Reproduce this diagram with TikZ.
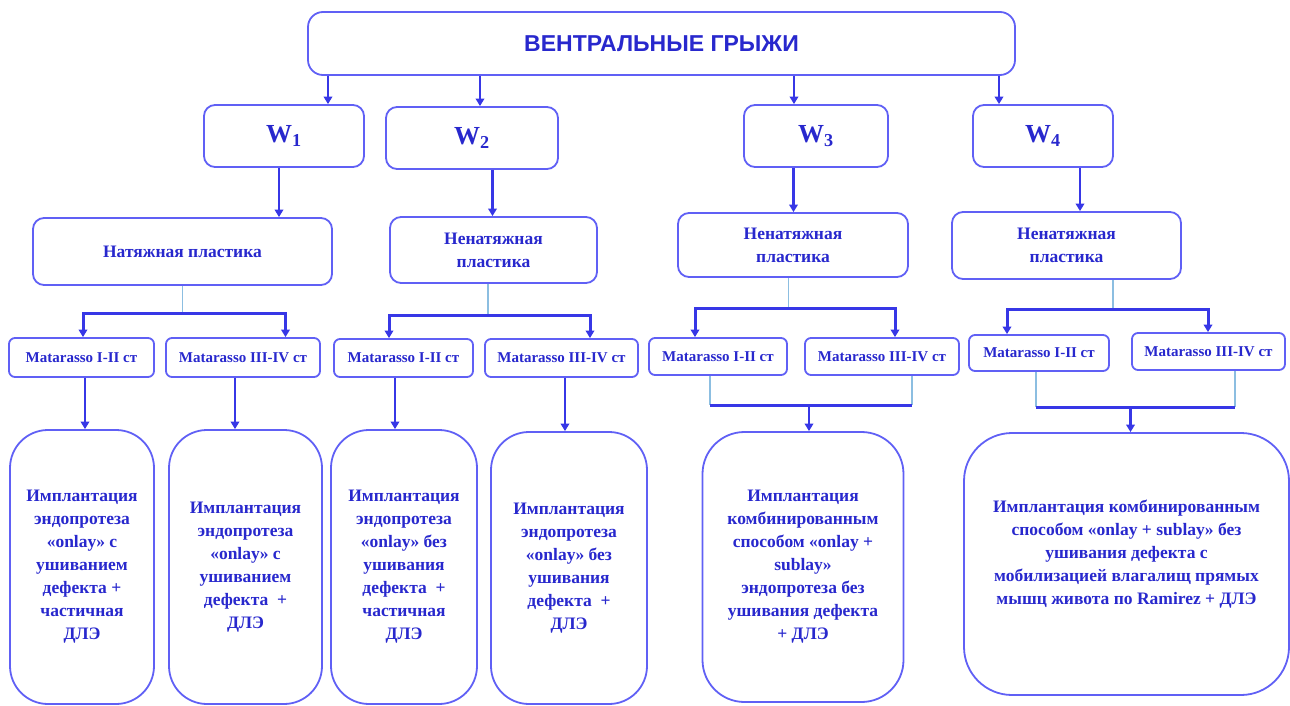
\documentclass[tikz,border=0pt]{standalone}
\usepackage{fontspec}
\setmainfont{Liberation Serif}
\newfontfamily\titlefont{Liberation Sans}
\usetikzlibrary{arrows.meta}
\definecolor{bord}{RGB}{96,96,245}
\definecolor{txt}{RGB}{40,40,205}
\definecolor{arrc}{RGB}{55,55,230}
\definecolor{thinc}{RGB}{140,190,225}
\begin{document}
\begin{tikzpicture}[x=1pt,y=-1pt,
  box/.style={draw=bord, line width=1.8pt, rounded corners=11pt, text=txt, align=center, inner sep=0pt,
    font=\bfseries\fontsize{17.5}{23}\selectfont},
  wbox/.style={box, font=\bfseries\fontsize{26}{30}\selectfont},
  mbox/.style={box, rounded corners=6pt, font=\bfseries\fontsize{15}{18}\selectfont},
  bbox/.style={box, rounded corners=38pt},
  conn/.style={draw=arrc, line width=2.6pt, -{Triangle[width=8.5pt,length=7.5pt]}},
  bar/.style={draw=arrc, line width=3pt},
  bar2/.style={draw=arrc, line width=3pt, {Triangle[width=8.5pt,length=7.5pt]}-{Triangle[width=8.5pt,length=7.5pt]}},
  thinl/.style={draw=thinc, line width=1.2pt}]
\useasboundingbox (0,0) rectangle (1290,706);

% top
\node[box, rounded corners=15pt, minimum width=707pt, minimum height=63pt,
  font=\titlefont\bfseries\fontsize{23}{27}\selectfont] (top) at (661.5,43.5) {ВЕНТРАЛЬНЫЕ ГРЫЖИ};

% W boxes
\node[wbox, minimum width=160pt, minimum height=62pt] (w1) at (284,136) {W\textsubscript{1}};
\node[wbox, minimum width=172pt, minimum height=62pt] (w2) at (472,138) {W\textsubscript{2}};
\node[wbox, minimum width=144pt, minimum height=62pt] (w3) at (816,136) {W\textsubscript{3}};
\node[wbox, minimum width=140pt, minimum height=62pt] (w4) at (1043,136) {W\textsubscript{4}};

% plastic boxes
\node[box, minimum width=299pt, minimum height=67pt] (n1) at (182.5,251.5) {Натяжная пластика};
\node[box, minimum width=207pt, minimum height=66pt] (n2) at (493.5,250) {Ненатяжная\\пластика};
\node[box, minimum width=230pt, minimum height=64pt] (n3) at (793,245) {Ненатяжная\\пластика};
\node[box, minimum width=229pt, minimum height=67pt] (n4) at (1066.5,245.5) {Ненатяжная\\пластика};

% Matarasso boxes
\node[mbox, minimum width=145pt, minimum height=39pt] (m1a) at (81.5,357.5) {Matarasso I-II ст};
\node[mbox, minimum width=154pt, minimum height=39pt] (m1b) at (243,357.5) {Matarasso III-IV ст};
\node[mbox, minimum width=139pt, minimum height=38pt] (m2a) at (403.5,358) {Matarasso I-II ст};
\node[mbox, minimum width=153pt, minimum height=38pt] (m2b) at (561.5,358) {Matarasso III-IV ст};
\node[mbox, minimum width=138pt, minimum height=37pt] (m3a) at (718,356.5) {Matarasso I-II ст};
\node[mbox, minimum width=154pt, minimum height=37pt] (m3b) at (882,356.5) {Matarasso III-IV ст};
\node[mbox, minimum width=140pt, minimum height=36pt] (m4a) at (1039,353) {Matarasso I-II ст};
\node[mbox, minimum width=153pt, minimum height=37pt] (m4b) at (1208.5,351.5) {Matarasso III-IV ст};

% bottom boxes
\node[bbox, minimum width=144pt, minimum height=274pt] (b1) at (82,567)
  {Имплантация\\эндопротеза\\«onlay» с\\ушиванием\\дефекта +\\частичная\\ДЛЭ};
\node[bbox, minimum width=153pt, minimum height=274pt] (b2) at (245.5,567)
  {Имплантация\\эндопротеза\\«onlay» с\\ушиванием\\дефекта \ +\\ДЛЭ};
\node[bbox, minimum width=146pt, minimum height=274pt] (b3) at (404,567)
  {Имплантация\\эндопротеза\\«onlay» без\\ушивания\\дефекта \ +\\частичная\\ДЛЭ};
\node[bbox, minimum width=156pt, minimum height=272pt] (b4) at (569,568)
  {Имплантация\\эндопротеза\\«onlay» без\\ушивания\\дефекта \ +\\ДЛЭ};
\node[bbox, rounded corners=42pt, minimum width=201pt, minimum height=270pt] (b5) at (803,567)
  {Имплантация\\комбинированным\\способом «onlay +\\sublay»\\эндопротеза без\\ушивания дефекта\\+ ДЛЭ};
\node[bbox, rounded corners=48pt, minimum width=325pt, minimum height=262pt] (b6) at (1126.5,564)
  {Имплантация комбинированным\\способом «onlay + sublay» без\\ушивания дефекта с\\мобилизацией влагалищ прямых\\мышц живота по Ramirez + ДЛЭ\\\mbox{}};

% top -> W
\draw[conn] (top.south -| 328,0) -- (w1.north -| 328,0);
\draw[conn] (top.south -| 480,0) -- (w2.north -| 480,0);
\draw[conn] (top.south -| 794,0) -- (w3.north -| 794,0);
\draw[conn] (top.south -| 999,0) -- (w4.north -| 999,0);

% W -> plastic
\draw[conn] (w1.south -| 279,0) -- (n1.north -| 279,0);
\draw[conn] (w2.south -| 492.5,0) -- (n2.north -| 492.5,0);
\draw[conn] (w3.south -| 793.5,0) -- (n3.north -| 793.5,0);
\draw[conn] (w4.south -| 1080,0) -- (n4.north -| 1080,0);

% plastic -> Matarasso
\coordinate (j1) at (182.5,313);
\coordinate (j2) at (488,315);
\coordinate (j3) at (788.5,308);
\coordinate (j4) at (1113,309);
\draw[thinl] (n1.south -| j1) -- (j1);
\draw[thinl] (n2.south -| j2) -- (j2);
\draw[thinl] (n3.south -| j3) -- (j3);
\draw[thinl] (n4.south -| j4) -- (j4);
\draw[bar2] (m1a.north -| 83,0) |- (j1) -| (m1b.north -| 285.5,0);
\draw[bar2] (m2a.north -| 389,0) |- (j2) -| (m2b.north -| 590,0);
\draw[bar2] (m3a.north -| 695,0) |- (j3) -| (m3b.north -| 895,0);
\draw[bar2] (m4a.north -| 1007,0) |- (j4) -| (m4b.north -| 1208,0);

% Matarasso -> implants (W1, W2)
\draw[conn] (m1a.south -| 85,0) -- (b1.north -| 85,0);
\draw[conn] (m1b.south -| 235,0) -- (b2.north -| 235,0);
\draw[conn] (m2a.south -| 395,0) -- (b3.north -| 395,0);
\draw[conn] (m2b.south -| 565,0) -- (b4.north -| 565,0);

% W3 merge
\coordinate (k3l) at (710,405);
\coordinate (k3r) at (912,405);
\draw[thinl] (m3a.south -| k3l) -- (k3l);
\draw[thinl] (m3b.south -| k3r) -- (k3r);
\draw[bar] (k3l) -- (k3r);
\draw[conn] (k3l -| 809,0) -- (b5.north -| 809,0);

% W4 merge
\coordinate (k4l) at (1036,407);
\coordinate (k4r) at (1235,407);
\draw[thinl] (m4a.south -| k4l) -- (k4l);
\draw[thinl] (m4b.south -| k4r) -- (k4r);
\draw[bar] (k4l) -- (k4r);
\draw[conn] (k4l -| 1130.5,0) -- (b6.north -| 1130.5,0);
\end{tikzpicture}
\end{document}
